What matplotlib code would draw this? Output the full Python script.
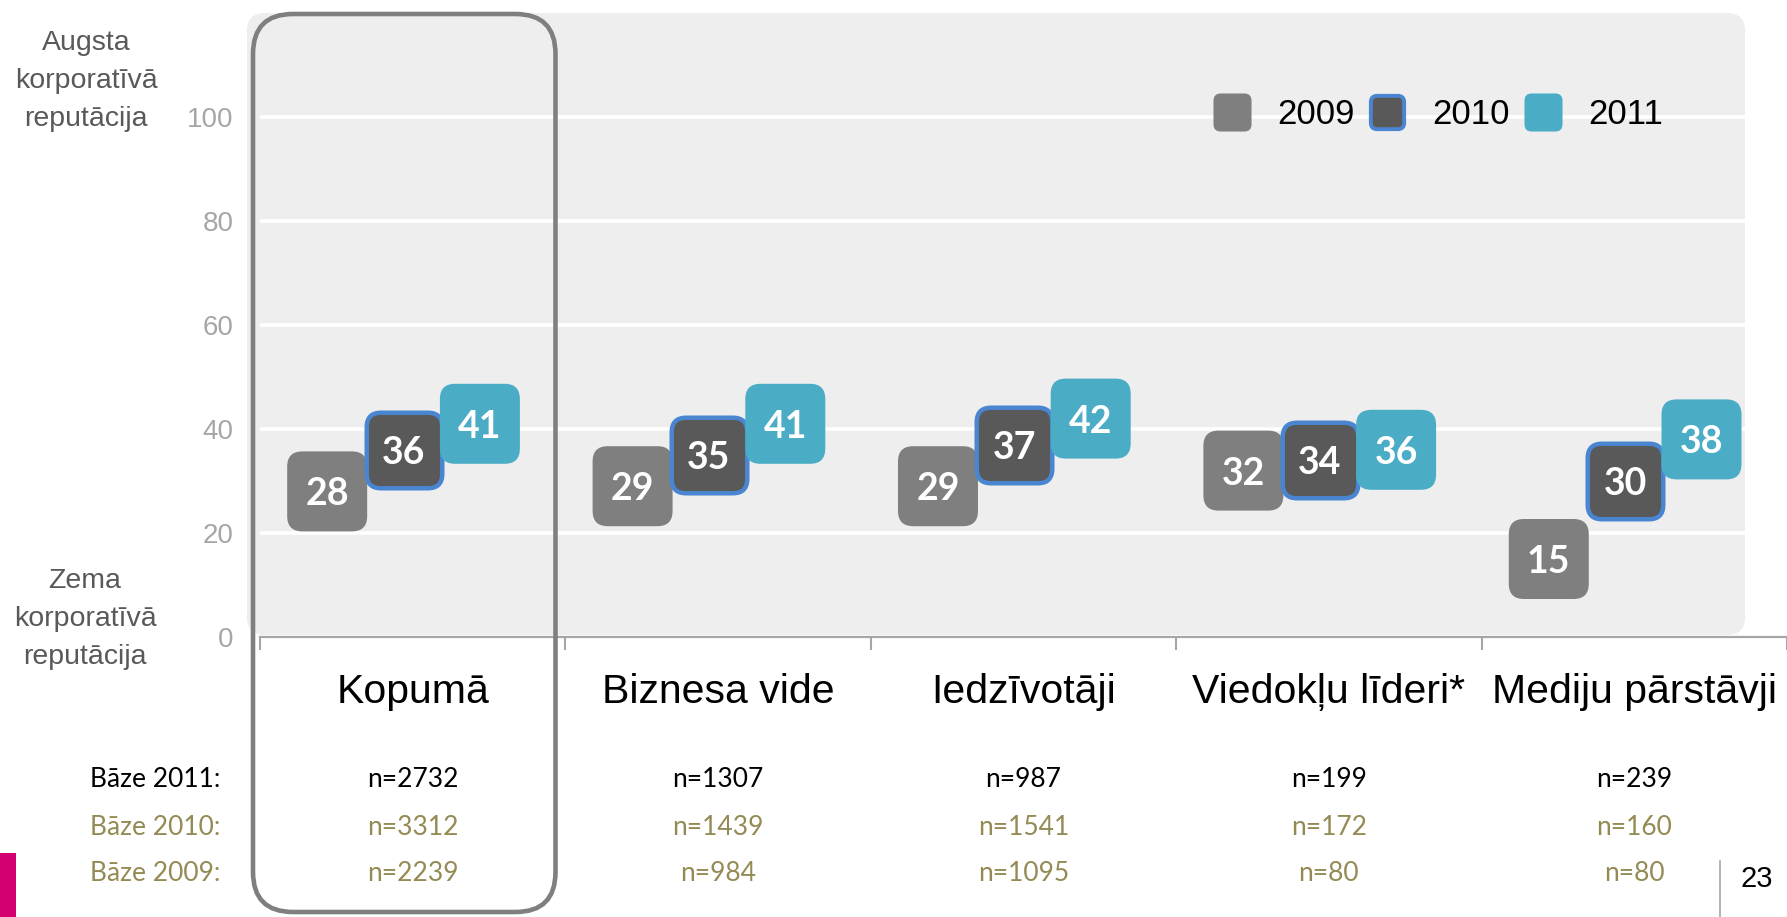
import matplotlib
matplotlib.use('Agg')
import matplotlib.pyplot as plt
from matplotlib.patches import FancyBboxPatch, Rectangle
from matplotlib.lines import Line2D
from matplotlib import transforms
import numpy as np

plt.rcParams['font.family'] = ['Liberation Sans', 'DejaVu Sans']

categories = ['Kopumā', 'Biznesa vide', 'Iedzīvotāji', 'Viedokļu līderi*', 'Mediju pārstāvji']
years = ['2009', '2010', '2011']
scores_2009 = [28, 29, 29, 32, 15]
scores_2010 = [36, 35, 37, 34, 30]
scores_2011 = [41, 41, 42, 36, 38]
base_2011 = [2732, 1307, 987, 199, 239]
base_2010 = [3312, 1439, 1541, 172, 160]
base_2009 = [2239, 984, 1095, 80, 80]
yticks = [0, 20, 40, 60, 80, 100]

W, H = 1787, 917
fig = plt.figure(figsize=(W / 100, H / 100), dpi=100, facecolor='white')


def fx(px):
    return px / W


def fy(py):
    return 1 - py / H


ax = fig.add_axes([fx(260), fy(637), 1 - fx(260), (637 - 13) / H])
ax.set_xlim(-0.5, 4.5)
ax.set_ylim(0, 120)
ax.patch.set_visible(False)

# grey plot area with rounded corners (in inches so the corners stay round)
bg = FancyBboxPatch((2.47, (H - 635) / 100), 14.98, 6.22,
                    boxstyle='round,pad=0,rounding_size=0.18',
                    transform=fig.dpi_scale_trans, fc='#EEEEEE', ec='none', zorder=-1)
fig.add_artist(bg)

grid_right = (1745 - 260) / (W - 260)
for v in yticks[1:]:
    ax.axhline(v, xmin=0, xmax=grid_right, color='white', lw=2.6, zorder=1)

for s in ['left', 'right', 'top']:
    ax.spines[s].set_visible(False)
ax.spines['bottom'].set_color('#A6A6A6')
ax.spines['bottom'].set_linewidth(1.6)

ax.set_xticks(range(len(categories)))
ax.set_xticklabels([])
ax.set_xticks(np.arange(-0.5, len(categories), 1), minor=True)
ax.tick_params(axis='x', which='major', length=0)
ax.tick_params(axis='x', which='minor', length=9.5, width=1.5, color='#A6A6A6', direction='out')

ax.set_yticks(yticks)
ax.tick_params(axis='y', length=0, pad=19, labelsize=20, labelcolor='#A6A6A6')

# rounded square marker
rpath = FancyBboxPatch((-1, -1), 2, 2, boxstyle='round,pad=0,rounding_size=0.38').get_path()

series = [
    (scores_2009, '#7F7F7F', 'none', 0, 57.6),
    (scores_2010, '#595959', '#4A85D2', 3.2, 54.4),
    (scores_2011, '#4BACC6', 'none', 0, 57.6),
]
offsets = [-0.28, -0.03, 0.22]

for i, (vals, fc, ec, lw, size) in enumerate(series):
    xs = np.arange(len(categories)) + offsets[i]
    ax.scatter(xs, vals, marker=rpath, s=size ** 2, c=fc, edgecolors=ec,
               linewidths=lw, zorder=3 + i)
    for x, v in zip(xs, vals):
        ax.text(x, v, str(v), ha='center', va='center_baseline', color='white',
                fontsize=27, fontweight='bold', family='Lato', zorder=3.5 + i)

trans = transforms.blended_transform_factory(ax.transData, fig.transFigure)

for i, c in enumerate(categories):
    ax.text(i, fy(703), c, transform=trans, ha='center', va='baseline',
            fontsize=29.5, color='black')

rows = [('Bāze 2011:', base_2011, '#000000', 787),
        ('Bāze 2010:', base_2010, '#948A54', 835),
        ('Bāze 2009:', base_2009, '#948A54', 881)]
for label, ns, col, yb in rows:
    fig.text(fx(220), fy(yb), label, ha='right', va='baseline', fontsize=19,
             family='Lato', color=col)
    for i, n in enumerate(ns):
        ax.text(i, fy(yb), f'n={n}', transform=trans, ha='center', va='baseline',
                fontsize=19, family='Lato', color=col)

# left side captions
for line, yb in zip(['Augsta', 'korporatīvā', 'reputācija'], [50, 88, 126]):
    fig.text(fx(86), fy(yb), line, ha='center', va='baseline', fontsize=20.5, color='#595959')
for line, yb in zip(['Zema', 'korporatīvā', 'reputācija'], [588, 626, 664]):
    fig.text(fx(85), fy(yb), line, ha='center', va='baseline', fontsize=20.5, color='#595959')

# highlight frame round the first group
frame = FancyBboxPatch((2.53, 0.05), 3.025, 8.98,
                       boxstyle='round,pad=0,rounding_size=0.40',
                       transform=fig.dpi_scale_trans, fc='none', ec='#7F7F7F', lw=3.3, zorder=6)
fig.add_artist(frame)

# legend
handles = [
    Line2D([], [], linestyle='none', marker=rpath, markersize=27.4,
           markerfacecolor='#7F7F7F', markeredgecolor='none', markeredgewidth=0),
    Line2D([], [], linestyle='none', marker=rpath, markersize=24,
           markerfacecolor='#595959', markeredgecolor='#4A85D2', markeredgewidth=2.8),
    Line2D([], [], linestyle='none', marker=rpath, markersize=27.4,
           markerfacecolor='#4BACC6', markeredgecolor='none', markeredgewidth=0),
]
fig.legend(handles, years, loc='center', bbox_to_anchor=(fx(1438), fy(115)), ncol=3,
           frameon=False, prop={'size': 25}, handlelength=1.1, handletextpad=0.75,
           columnspacing=0.4, borderpad=0, borderaxespad=0)

# slide furniture: logo strip and page number
fig.add_artist(Rectangle((0, 0), 0.157, 0.64, transform=fig.dpi_scale_trans,
                         fc='#D4006F', ec='none'))
fig.add_artist(Line2D([17.20, 17.20], [0, (H - 861) / 100], transform=fig.dpi_scale_trans,
                      color='#A6A6A6', lw=1.2))
fig.text(fx(1740), fy(887), '23', ha='left', va='baseline', fontsize=21, color='black')

fig.savefig('out.png', dpi=100)
